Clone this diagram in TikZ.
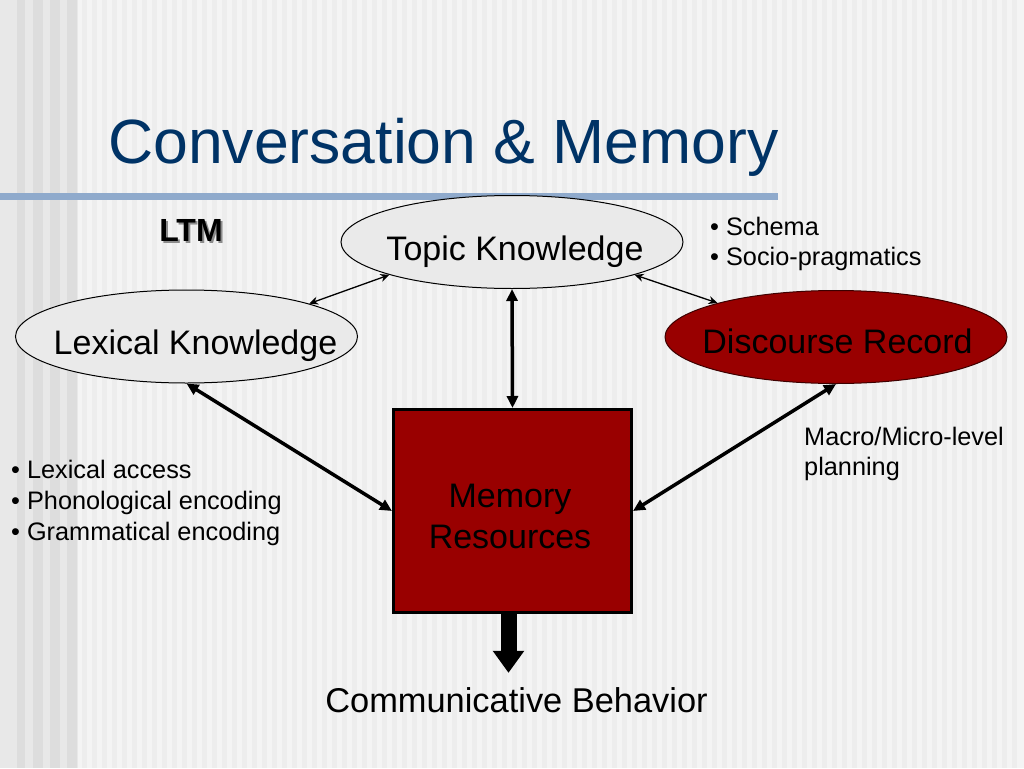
\documentclass[tikz,border=0pt]{standalone}
\usepackage{fontspec}
\setmainfont{Liberation Sans}
\usetikzlibrary{shapes.geometric,arrows.meta,calc}
\definecolor{bgbase}{RGB}{244,244,244}
\definecolor{bgstripe}{RGB}{237,237,237}
\definecolor{bgleft}{RGB}{232,232,232}
\definecolor{bgleftdark}{RGB}{221,221,221}
\definecolor{titleblue}{RGB}{0,51,102}
\definecolor{ruleblue}{RGB}{143,170,204}
\definecolor{darkred}{RGB}{153,0,0}
\definecolor{ellgray}{RGB}{234,234,234}
\begin{document}
\begin{tikzpicture}[x=1pt,y=-1pt,
  ellgrey/.style={ellipse, draw=black, line width=1pt, fill=ellgray, minimum width=342pt, minimum height=93pt, inner sep=0pt},
  ellred/.style={ellipse, draw=black!60!darkred, line width=1pt, fill=darkred, minimum width=342pt, minimum height=93pt, inner sep=0pt},
  bigtxt/.style={font=\fontsize{34}{40}\selectfont, inner sep=0pt, anchor=base},
  smalltxt/.style={font=\fontsize{25.3}{30}\selectfont, inner sep=0pt, anchor=base west},
  thinarr/.style={line width=1.3pt, {Stealth[length=9pt,width=8pt]}-{Stealth[length=9pt,width=8pt]}},
  thickarr/.style={line width=3.5pt, {Triangle[length=12pt,width=11pt]}-{Triangle[length=12pt,width=11pt]}},
  memboxst/.style={rectangle, draw=black, line width=3pt, fill=darkred, minimum width=238pt, minimum height=203pt, inner sep=0pt}
]
\useasboundingbox (0,0) rectangle (1024,768);
% background
\fill[bgbase] (0,0) rectangle (1024,768);
\foreach \i in {0,...,93} { \fill[bgstripe] (82+\i*10,0) rectangle ++(5,768); }
\fill[bgleft] (0,0) rectangle (78,768);
\foreach \xx/\ww in {17/8, 33/10, 50/10, 67/10} { \fill[bgleftdark] (\xx,0) rectangle ++(\ww,768); }
% title and rule
\node[anchor=base west, inner sep=0pt, text=titleblue, font=\fontsize{62.5}{70}\selectfont] (title) at (108,163) {Conversation \& Memory};
\fill[ruleblue] (0,193) rectangle (778,200);
% LTM
\node[anchor=base, inner sep=0pt, text=black!45, font=\bfseries\fontsize{32}{36}\selectfont] (ltmshadow) at (193,243) {LTM};
\node[anchor=base, inner sep=0pt, text=black, font=\bfseries\fontsize{32}{36}\selectfont] (ltm) at (191,241) {LTM};
% ellipses
\node[ellgrey] (topic) at (512,242) {};
\node[ellgrey] (lex) at (186.5,336.5) {};
\node[ellred] (disc) at (836,337) {};
\node[bigtxt] (topictxt) at (515,260) {Topic Knowledge};
\node[bigtxt] (lextxt) at (195.5,354) {Lexical Knowledge};
\node[bigtxt] (disctxt) at (837.5,353) {Discourse Record};
% memory box
\node[memboxst] (mem) at (512.5,511) {};
\node[bigtxt] (memtxt1) at (510,507) {Memory};
\node[bigtxt] (memtxt2) at (510,548) {Resources};
% communicative behavior
\node[bigtxt, font=\fontsize{34.4}{40}\selectfont] (cb) at (516.5,712) {Communicative Behavior};
% side texts
\node[smalltxt] (sch1) at (710,235) {• Schema};
\node[smalltxt] (sch2) at (710,265) {• Socio-pragmatics};
\node[smalltxt] (mac1) at (804,445) {Macro/Micro-level};
\node[smalltxt] (mac2) at (804,475) {planning};
\node[smalltxt] (lx1) at (11,478) {• Lexical access};
\node[smalltxt] (lx2) at (11,509) {• Phonological encoding};
\node[smalltxt] (lx3) at (11,540) {• Grammatical encoding};
% connectors
\draw[thinarr] (topic.195) -- (lex.15);
\draw[thinarr] (topic.345) -- (disc.164.5);
\draw[thickarr] (topic.south) -- (mem.north);
\draw[thickarr] (lex.south) -- (mem.west);
\draw[thickarr] (disc.south) -- (mem.east);
\draw[line width=16pt, -{Triangle[length=22pt,width=30pt]}, shorten >=14pt]
  ([xshift=-4pt,yshift=1.5pt]mem.south) -- ([xshift=-4pt]mem.south |- cb.north);
\end{tikzpicture}
\end{document}
